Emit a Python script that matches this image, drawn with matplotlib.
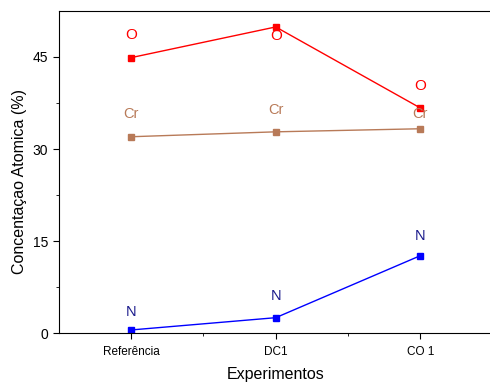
import numpy as np
import matplotlib.pyplot as plt

plt.rcParams['font.family'] = ['Liberation Sans', 'DejaVu Sans']

experimentos = ['Referência', 'DC1', 'CO 1']
oxigenio = [44.9, 49.9, 36.7]
cromo = [32.0, 32.8, 33.3]
nitrogenio = [0.5, 2.5, 12.6]

# posicoes dos rotulos de cada serie
rot_o = [48.6, 48.4, 40.3]
rot_cr = [35.7, 36.4, 35.7]
rot_n = [3.4, 6.0, 15.8]

x = np.arange(1, len(experimentos) + 1)

fig = plt.figure(figsize=(4.9, 3.83), dpi=100)
ax = fig.add_axes([0.1204, 0.1305, 0.8846, 0.8408])

ax.plot(x, oxigenio, '-s', color='#ff0000', lw=1, ms=5)
ax.plot(x, cromo, '-s', color='#b87a58', lw=1, ms=5)
ax.plot(x, nitrogenio, '-s', color='#0000ff', lw=1, ms=5)

for i in range(len(x)):
    ax.text(x[i], rot_o[i], 'O', color='#ff0000', fontsize=11, ha='center', va='center')
    ax.text(x[i], rot_cr[i], 'Cr', color='#b87a58', fontsize=10.5, ha='center', va='center')
    ax.text(x[i], rot_n[i], 'N', color='#1a1a8c', fontsize=10.5, ha='center', va='center')

ax.set_xlim(0.5, 3.5)
ax.set_ylim(0, 52.5)
ax.set_xticks(x)
ax.set_xticklabels(experimentos)
ax.set_xticks([1.5, 2.5], minor=True)
ax.set_yticks([0, 15, 30, 45])
ax.set_yticks([7.5, 22.5, 37.5], minor=True)
ax.tick_params(which='major', length=4, direction='out')
ax.tick_params(which='minor', length=2.5, direction='out')
ax.tick_params(axis='x', labelsize=8.5, pad=5)
ax.tick_params(axis='y', labelsize=10, pad=4)
ax.spines['right'].set_visible(False)

ax.set_xlabel('Experimentos', fontsize=11.5)
ax.set_ylabel('Concentaçao Atomica (%)', fontsize=11.5)
ax.yaxis.set_label_coords(-0.074, 0.47)
ax.xaxis.set_label_coords(0.5, -0.105)

plt.savefig('out.png', dpi=100)
